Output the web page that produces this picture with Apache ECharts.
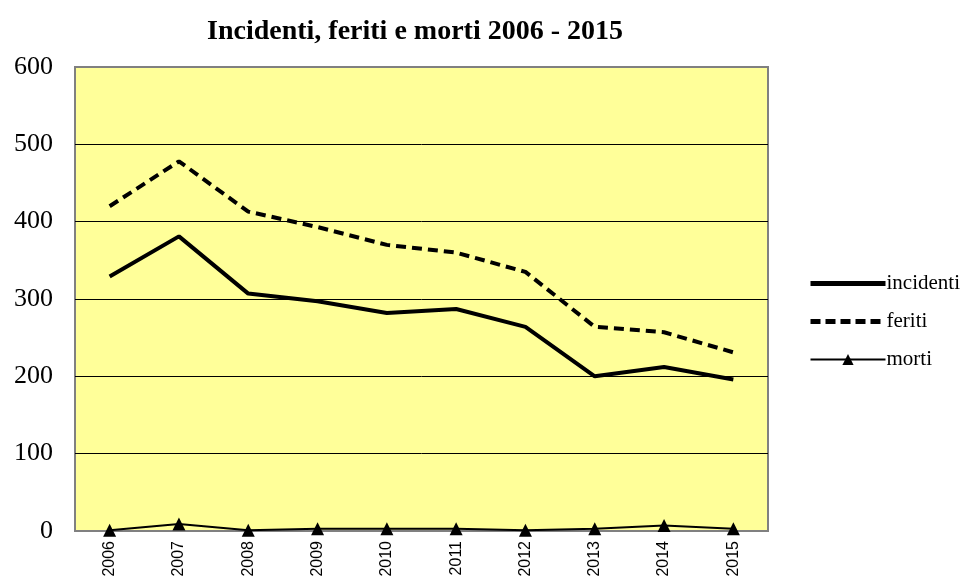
<!DOCTYPE html>
<html>
<head>
<meta charset="utf-8">
<script src="https://cdn.jsdelivr.net/npm/echarts@6/dist/echarts.min.js"></script>
<style>
  html, body { margin: 0; padding: 0; background: #fff; }
  #chart { width: 968px; height: 587px; }
</style>
</head>
<body>
<div id="chart"></div>
<script>
const years = ['2006', '2007', '2008', '2009', '2010', '2011', '2012', '2013', '2014', '2015']
const incidenti = [329, 381, 307, 297, 282, 287, 264, 200, 212, 196]
const feriti = [420, 478, 413, 393, 370, 360, 335, 264, 257, 231]
const morti = [1, 9, 1, 3, 3, 3, 1, 3, 7, 3]

const serif = 'Liberation Serif'
const chart = echarts.init(document.getElementById('chart'))

chart.setOption({
  animation: false,
  title: {
    text: 'Incidenti, feriti e morti 2006 - 2015',
    left: 410,
    top: 13,
    textAlign: 'center',
    textStyle: { fontFamily: serif, fontWeight: 'bold', fontSize: 28, color: '#000' }
  },
  grid: {
    left: 75, top: 67, right: 200, bottom: 56,
    show: true,
    backgroundColor: '#FFFF99',
    borderColor: '#808080',
    borderWidth: 2
  },
  legend: {
    orient: 'vertical',
    left: 803,
    top: 268,
    itemWidth: 75,
    itemHeight: 14,
    itemGap: 17,
    textStyle: { fontFamily: serif, fontSize: 21, color: '#000', padding: [0, 0, 0, -4] },
    data: [
      { name: 'incidenti', itemStyle: { opacity: 0 }, lineStyle: { width: 5, color: '#000' } },
      { name: 'feriti', itemStyle: { opacity: 0 }, lineStyle: { width: 5, color: '#000', type: [10, 5] } },
      { name: 'morti', lineStyle: { width: 2, color: '#000' } }
    ]
  },
  xAxis: {
    type: 'category',
    data: years,
    boundaryGap: true,
    axisLine: { show: false },
    axisTick: { show: false },
    axisLabel: {
      rotate: 90,
      margin: 10,
      fontFamily: 'Liberation Sans',
      fontSize: 16,
      color: '#000'
    }
  },
  yAxis: {
    type: 'value',
    min: 0,
    max: 600,
    interval: 100,
    axisLine: { show: false },
    axisTick: { show: false },
    axisLabel: { margin: 22, fontFamily: serif, fontSize: 26, color: '#000' },
    splitLine: { showMinLine: false, showMaxLine: false, lineStyle: { color: '#000', width: 1 } }
  },
  series: [
    {
      name: 'incidenti',
      type: 'line',
      data: incidenti,
      symbol: 'none',
      lineStyle: { color: '#000', width: 4 },
      itemStyle: { color: '#000' }
    },
    {
      name: 'feriti',
      type: 'line',
      data: feriti,
      symbol: 'none',
      lineStyle: { color: '#000', width: 4, type: [10, 6] },
      itemStyle: { color: '#000' }
    },
    {
      name: 'morti',
      type: 'line',
      data: morti,
      symbol: 'triangle',
      symbolSize: 13,
      lineStyle: { color: '#000', width: 2 },
      itemStyle: { color: '#000' }
    }
  ]
})
</script>
</body>
</html>
